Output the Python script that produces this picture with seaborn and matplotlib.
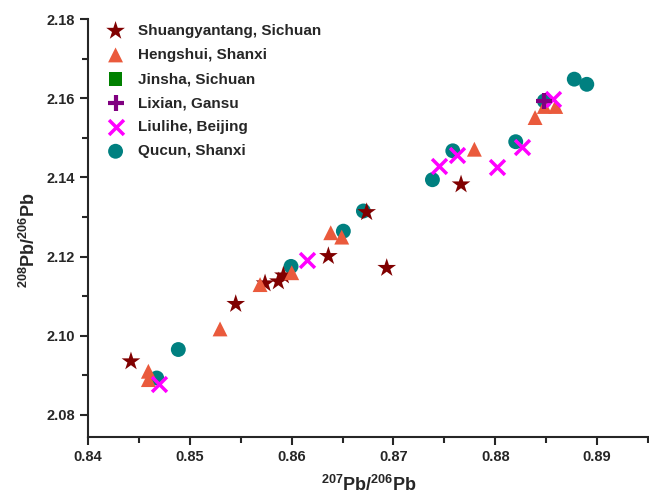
import matplotlib
matplotlib.use("Agg")
import matplotlib.pyplot as plt
import seaborn as sns
from matplotlib.ticker import MultipleLocator, FormatStrFormatter

# ---- data ----
shuang_x = [0.84422, 0.85451, 0.85739, 0.85870, 0.85919, 0.86361, 0.86737, 0.86934, 0.87664]
shuang_y = [2.0935, 2.1080, 2.1132, 2.1137, 2.1152, 2.1201, 2.1312, 2.1171, 2.1382]

heng_x = [0.84593, 0.84593, 0.85297, 0.85690, 0.86001, 0.86384, 0.86492, 0.87795, 0.88391, 0.88482, 0.88594]
heng_y = [2.0910, 2.0889, 2.1017, 2.1129, 2.1159, 2.1260, 2.1249, 2.1471, 2.1551, 2.1579, 2.1579]

jinsha_x = []
jinsha_y = []

lixian_x = [0.88482]
lixian_y = [2.1593]

liuli_x = [0.84697, 0.86154, 0.87448, 0.87628, 0.88014, 0.88267, 0.88570]
liuli_y = [2.0878, 2.1192, 2.1428, 2.1456, 2.1427, 2.1477, 2.1597]

qucun_x = [0.84675, 0.84887, 0.85994, 0.86508, 0.86705, 0.87383, 0.87583, 0.88201, 0.88482, 0.88776, 0.88899]
qucun_y = [2.0893, 2.0965, 2.1175, 2.1264, 2.1315, 2.1394, 2.1467, 2.1490, 2.1593, 2.1648, 2.1635]

labels = ["Shuangyantang, Sichuan", "Hengshui, Shanxi", "Jinsha, Sichuan",
          "Lixian, Gansu", "Liulihe, Beijing", "Qucun, Shanxi"]

sns.set_style("ticks")
plt.rcParams['font.family'] = ['Liberation Sans', 'DejaVu Sans']
plt.rcParams['font.weight'] = 'bold'
plt.rcParams['mathtext.fontset'] = 'custom'
plt.rcParams['mathtext.rm'] = 'Liberation Sans:bold'
plt.rcParams['mathtext.bf'] = 'Liberation Sans:bold'
plt.rcParams['mathtext.it'] = 'Liberation Sans:bold'

fig = plt.figure(figsize=(6.49, 4.98), dpi=100)
ax = fig.add_axes([88/649, 1 - 437/498, (649 - 88)/649, (437 - 19)/498])

sns.scatterplot(x=shuang_x, y=shuang_y, ax=ax, marker='*', s=200, color='#800000',
                edgecolor='none', label=labels[0], zorder=3)
sns.scatterplot(x=heng_x, y=heng_y, ax=ax, marker='^', s=115, color='#EA5A3C',
                edgecolor='none', label=labels[1], zorder=3)
ax.scatter(jinsha_x, jinsha_y, marker='s', s=90, color='#008000', edgecolor='none',
           label=labels[2], zorder=3)
ax.scatter(lixian_x, lixian_y, marker='+', s=140, color='#800080', linewidths=3,
           label=labels[3], zorder=5)
ax.scatter(liuli_x, liuli_y, marker='x', s=115, color='#FF00FF', linewidths=2.5,
           label=labels[4], zorder=4)
sns.scatterplot(x=qucun_x, y=qucun_y, ax=ax, marker='o', s=115, color='#008080',
                edgecolor='none', label=labels[5], zorder=2)

ax.set_xlim(0.84, 0.8951)
ax.set_ylim(2.0744, 2.18)
ax.xaxis.set_major_locator(MultipleLocator(0.01))
ax.xaxis.set_minor_locator(MultipleLocator(0.005))
ax.yaxis.set_major_locator(MultipleLocator(0.02))
ax.yaxis.set_minor_locator(MultipleLocator(0.01))
ax.xaxis.set_major_formatter(FormatStrFormatter('%.2f'))
ax.yaxis.set_major_formatter(FormatStrFormatter('%.2f'))

for sp in ['top', 'right']:
    ax.spines[sp].set_visible(False)
for sp in ['left', 'bottom']:
    ax.spines[sp].set_linewidth(1.5)
ax.tick_params(which='major', direction='out', length=6, width=1.5, labelsize=10.5)
ax.tick_params(which='minor', direction='out', length=4, width=1.5)
for lab in ax.get_xticklabels() + ax.get_yticklabels():
    lab.set_fontweight('bold')

ax.set_xlabel(r'$\mathbf{^{207}Pb/^{206}Pb}$', fontsize=13, labelpad=8)
ax.set_ylabel(r'$\mathbf{^{208}Pb/^{206}Pb}$', fontsize=13, labelpad=4)
ax.yaxis.set_label_coords(-0.087, 0.47)

handles, labs = ax.get_legend_handles_labels()
order = [labs.index(l) for l in labels]
leg = ax.legend([handles[i] for i in order], [labs[i] for i in order],
                loc='upper left', bbox_to_anchor=(0.011, 1.003), frameon=False,
                fontsize=11, handletextpad=0.45, labelspacing=0.66,
                borderaxespad=0.0)
for t in leg.get_texts():
    t.set_fontweight('bold')

fig.savefig('out.png', dpi=100)
